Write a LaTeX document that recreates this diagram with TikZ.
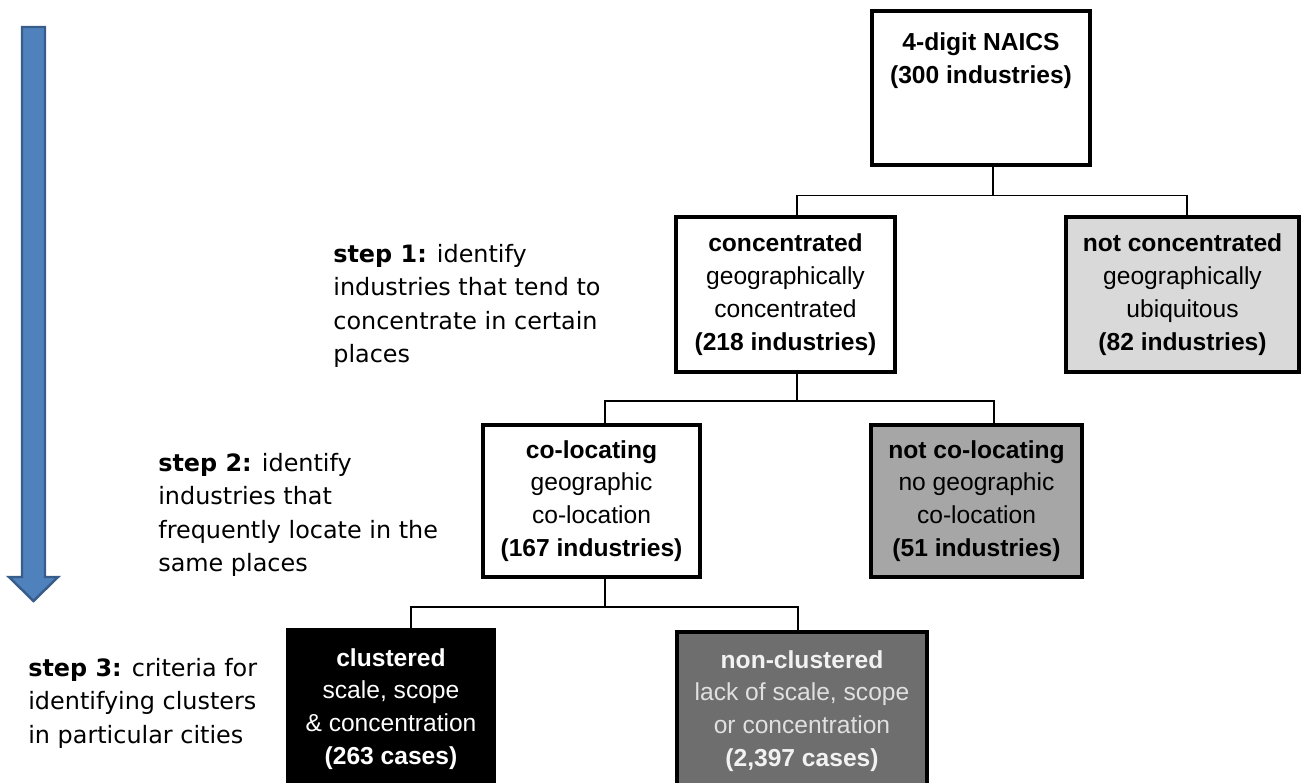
\documentclass[tikz,border=0pt]{standalone}
\usepackage{fontspec}
\setmainfont{Liberation Sans}
\newfontfamily\stepfont{DejaVu Sans}
\usepackage{xcolor}
\usepackage{tikz}
\usetikzlibrary{calc}
\definecolor{lightfill}{HTML}{D9D9D9}
\definecolor{midfill}{HTML}{A6A6A6}
\definecolor{darkfill}{HTML}{6E6E6E}
\definecolor{arrowfill}{HTML}{4F81BD}
\definecolor{arrowline}{HTML}{385D8A}

\begin{document}
\begin{tikzpicture}[x=0.02cm,y=-0.02cm,
  box/.style={draw,line width=2.2pt,anchor=north,align=center,inner sep=0pt,
    font=\fontsize{14}{18.7}\selectfont},
  steptext/.style={anchor=north west,align=left,inner sep=0pt,
    font=\stepfont\fontsize{13.6}{19}\selectfont},
  link/.style={line width=0.9pt}]
\useasboundingbox (0,0) rectangle (1307,782);
\filldraw[fill=arrowfill,draw=arrowline,line width=1.4pt]
  (22,27) -- (45,27) -- (45,577) -- (58,577) -- (33.5,601) -- (9,577) -- (22,577) -- cycle;

\node[box,minimum width=4.36cm,inner ysep=0.44cm,text depth=1.18cm] (naics) at (981,9)
  {\textbf{4-digit NAICS}\\\textbf{(300 industries)}};
\node[box,minimum width=4.38cm,minimum height=3.1cm] (conc) at (785.5,215)
  {\textbf{concentrated}\\geographically\\concentrated\\\textbf{(218 industries)}};
\node[box,fill=lightfill,minimum width=4.66cm,minimum height=3.1cm] (notconc) at (1182.5,215)
  {\textbf{not concentrated}\\geographically\\ubiquitous\\\textbf{(82 industries)}};
\node[box,minimum width=4.34cm,minimum height=3.04cm] (coloc) at (591.5,423)
  {\textbf{co-locating}\\geographic\\co-location\\\textbf{(167 industries)}};
\node[box,fill=midfill,minimum width=4.22cm,minimum height=3.04cm] (notcoloc) at (976.5,423)
  {\textbf{not co-locating}\\no geographic\\co-location\\\textbf{(51 industries)}};
\node[box,fill=black,text=white,minimum width=4.12cm,minimum height=3.16cm] (clust) at (391,628)
  {\textbf{clustered}\\scale, scope\\\& concentration\\\textbf{(263 cases)}};
\node[box,fill=darkfill,text=white!88!black,minimum width=5cm,minimum height=3.16cm] (nonclust) at (802,630)
  {\textcolor{white!95!black}{\textbf{non-clustered}}\\lack of scale, scope\\or concentration\\\textcolor{white!95!black}{\textbf{(2,397 cases)}}};

\draw[link] ($(naics.south)+(12,0)$) -- ++(0,29) coordinate (fork1);
\draw[link] (fork1) -| ($(conc.north)+(11.5,0)$);
\draw[link] (fork1) -| ($(notconc.north)+(4.5,0)$);
\draw[link] ($(conc.south)+(11.5,0)$) -- ++(0,27) coordinate (fork2);
\draw[link] (fork2) -| ($(coloc.north)+(13.5,0)$);
\draw[link] (fork2) -| ($(notcoloc.north)+(17.5,0)$);
\draw[link] ($(coloc.south)+(13.5,0)$) -- ++(0,28) coordinate (fork3);
\draw[link] (fork3) -| ($(clust.north)+(20,0)$);
\draw[link] (fork3) -| ($(nonclust.north)+(-4,0)$);

\node[steptext] (step1) at (333,244)
  {\textbf{step 1:} identify\\industries that tend to\\concentrate in certain\\places};
\node[steptext] (step2) at (158,453)
  {\textbf{step 2:} identify\\industries that\\frequently locate in the\\same places};
\node[steptext] (step3) at (28,658)
  {\textbf{step 3:} criteria for\\identifying clusters\\in particular cities};
\end{tikzpicture}
\end{document}
